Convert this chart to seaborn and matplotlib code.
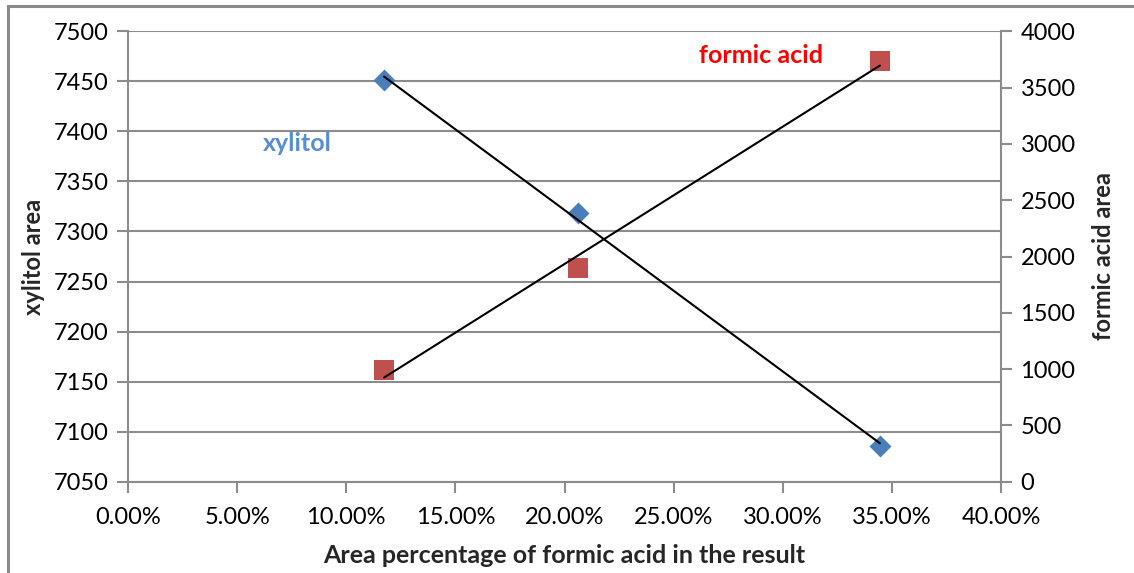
import numpy as np
import pandas as pd
import matplotlib
matplotlib.use("Agg")
import matplotlib.pyplot as plt
from matplotlib.ticker import PercentFormatter
import seaborn as sns

# Measured values
formic_pct = [0.1173, 0.2060, 0.3445]      # area percentage of formic acid
xylitol_area = [7451, 7318, 7086]
formic_area = [992, 1896, 3739]

x_ticks = [0.0, 0.05, 0.10, 0.15, 0.20, 0.25, 0.30, 0.35, 0.40]
left_ticks = list(range(7050, 7501, 50))
right_ticks = list(range(0, 4001, 500))

df = pd.DataFrame({"pct": formic_pct, "xylitol": xylitol_area, "formic": formic_area})

sns.set_theme(style="white")
plt.rcParams["font.family"] = ["Lato", "DejaVu Sans"]

GRID = "#8c8c8c"
BLUE = "#4a7ebb"
RED = "#c0504d"

fig = plt.figure(figsize=(11.34, 5.73), dpi=100)
ax = fig.add_axes([128 / 1134, 1 - 481.7 / 573, (1001 - 128) / 1134, (481.7 - 31.3) / 573])
ax2 = ax.twinx()

# figure frame (top and left edges visible)
fig.patches.append(plt.Rectangle((8 / 1134, -0.1), 1.2, 1 - 6 / 573 + 0.1,
                                 transform=fig.transFigure, fill=False,
                                 edgecolor="#8a8a8a", linewidth=2.2, zorder=-5))

# horizontal gridlines from the left axis
ax.set_ylim(7050, 7500)
ax.set_yticks(left_ticks)
ax.set_xlim(0, 0.40)
ax.set_xticks(x_ticks)
ax.xaxis.set_major_formatter(PercentFormatter(1.0, decimals=2))
ax.yaxis.grid(True, color=GRID, linewidth=1.5)
ax.set_axisbelow(True)

ax2.set_ylim(0, 4000)
ax2.set_yticks(right_ticks)
ax2.grid(False)

# linear trend lines
for axis, col in ((ax, "xylitol"), (ax2, "formic")):
    k, b = np.polyfit(df["pct"], df[col], 1)
    xs = np.array([df["pct"].min(), df["pct"].max()])
    axis.plot(xs, k * xs + b, color="black", linewidth=1.5, zorder=4)

sns.scatterplot(data=df, x="pct", y="xylitol", ax=ax, marker="D", s=125,
                color=BLUE, edgecolor=BLUE, linewidth=0, zorder=3)
sns.scatterplot(data=df, x="pct", y="formic", ax=ax2, marker="s", s=205,
                color=RED, edgecolor=RED, linewidth=0, zorder=3)

for a in (ax, ax2):
    a.spines["top"].set_visible(False)
    for s in ("left", "right", "bottom"):
        a.spines[s].set_color(GRID)
        a.spines[s].set_linewidth(1.5)
ax.spines["right"].set_visible(False)
ax2.spines["left"].set_visible(False)
ax2.spines["bottom"].set_visible(False)

ax.tick_params(axis="both", which="major", length=8, width=1.5, color=GRID,
               labelsize=17, labelcolor="black", direction="out")
ax.tick_params(axis="y", pad=6, left=True)
ax.tick_params(axis="x", pad=10, bottom=True)
ax2.tick_params(axis="y", length=8, width=1.5, color=GRID, labelsize=17,
                labelcolor="black", direction="out", pad=6, right=True)

ax.set_xlabel("Area percentage of formic acid in the result", fontsize=18,
              fontweight="bold", labelpad=12)
ax.set_ylabel("xylitol area", fontsize=17, fontweight="bold", labelpad=6)
ax2.set_ylabel("formic acid area", fontsize=17, fontweight="bold", labelpad=12)

ax.text(0.0774, 7388, "xylitol", color="#558ed5", fontsize=18, fontweight="bold",
        ha="center", va="center")
ax2.text(0.290, 3781, "formic acid", color="#ff0000", fontsize=18, fontweight="bold",
         ha="center", va="center")

fig.savefig("out.png", dpi=100)
